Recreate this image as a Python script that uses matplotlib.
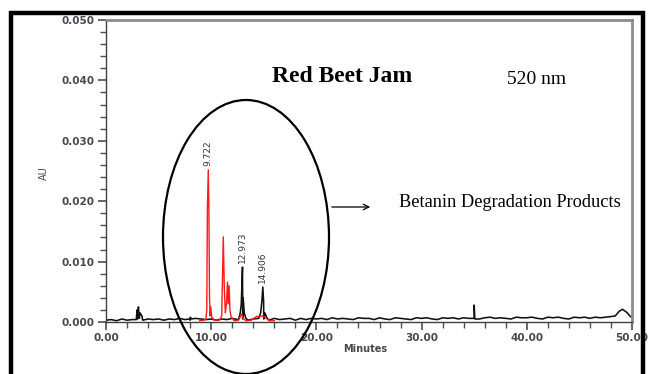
import numpy as np
import matplotlib.pyplot as plt
from matplotlib.patches import Ellipse, FancyArrowPatch
from matplotlib.lines import Line2D
from matplotlib.ticker import MultipleLocator, FormatStrFormatter

# black trace: noisy baseline every 0.5 min (AU x 1e-4), 0 .. 48 min
baseline_time = np.arange(0, 48.5, 0.5)
baseline_au = [3, 4, 2, 5, 3, 4, 5, 3, 5, 4,
               5, 3, 5, 4, 6, 4, 3, 6, 5, 4,
               5, 3, 5, 4, 6, 4, 5, 3, 5, 6,
               5, 3, 6, 4, 5, 6, 3, 6, 4, 6,
               5, 6, 4, 7, 5, 6, 5, 4, 7, 6,
               6, 4, 7, 5, 4, 7, 6, 5, 4, 7,
               6, 7, 5, 4, 7, 6, 7, 5, 7, 6,
               7, 5, 7, 8, 6, 7, 6, 5, 8, 7,
               7, 8, 6, 5, 8, 7, 8, 6, 5, 8,
               7, 8, 6, 8, 7, 8, 9]

# black trace: peaks and spikes (min, AU x 1e-3)
black_peak_time = [2.88, 2.95, 3.02, 3.08, 3.17, 3.24, 3.42, 3.47, 7.9, 8.02, 8.1,
                   12.62, 12.76, 12.86, 12.92, 12.973, 13.04, 13.14, 13.3,
                   14.52, 14.7, 14.82, 14.906, 14.98, 15.1, 15.32,
                   34.96, 35.0, 35.06, 48.4, 48.8, 49.1, 49.5, 49.8, 50.0]
black_peak_au = [0.4, 2.0, 0.6, 2.5, 0.6, 1.5, 1.0, 0.4, 0.5, 0.8, 0.5,
                 0.5, 1.5, 3.0, 6.0, 9.1, 4.0, 1.5, 0.6,
                 0.6, 1.5, 3.5, 5.8, 3.5, 1.5, 0.6,
                 0.6, 2.8, 0.5, 1.0, 1.8, 2.1, 1.6, 1.0, 0.7]

# red trace (min, AU x 1e-3)
red_time = [8.9, 9.3, 9.5, 9.58, 9.64, 9.722, 9.78, 9.84, 9.9, 9.96, 10.05,
            10.3, 10.8, 11.0, 11.08, 11.15, 11.24, 11.34, 11.45, 11.55, 11.62,
            11.7, 11.78, 11.9, 12.2, 12.6, 12.9, 13.05, 13.3, 13.8, 14.3,
            14.8, 15.1, 15.5, 16.0]
red_au = [0.2, 0.3, 0.5, 2.0, 19.0, 25.2, 19.0, 4.0, 1.0, 2.5, 0.8,
          0.3, 0.3, 1.0, 8.0, 14.1, 6.0, 1.5, 3.0, 6.6, 3.0,
          6.0, 2.0, 0.8, 0.2, 0.3, 1.3, 0.6, 0.2, 0.3, 0.9,
          1.0, 0.8, 0.2, 0.2]

peak_labels = ["9.722", "12.973", "14.906"]
peak_label_time = [9.722, 12.973, 14.906]
peak_label_au = [25.2, 9.1, 5.8]

black_t = np.concatenate([baseline_time, black_peak_time])
black_y = np.concatenate([np.array(baseline_au) * 1e-4, np.array(black_peak_au) * 1e-3])
order = np.argsort(black_t, kind="stable")
black_t, black_y = black_t[order], black_y[order]

tick_color = "#4a4650"

fig = plt.figure(figsize=(6.49, 3.74), dpi=100)
ax = fig.add_axes([106 / 649, 1 - 322 / 374, 526 / 649, 302 / 374])

ax.plot(black_t, black_y, color="#111111", lw=1.15, zorder=2)
ax.plot(red_time, np.array(red_au) * 1e-3, color="#ff1a1a", lw=1.0, zorder=3)

for lab, t, y in zip(peak_labels, peak_label_time, peak_label_au):
    ax.annotate(lab, (t, y * 1e-3), xytext=(0, 3), textcoords="offset points",
                rotation=90, ha="center", va="bottom", fontsize=6.5, color="#333333")

ax.set_xlim(0, 50)
ax.set_ylim(0, 0.050)
ax.xaxis.set_major_locator(MultipleLocator(10))
ax.xaxis.set_minor_locator(MultipleLocator(2))
ax.yaxis.set_major_locator(MultipleLocator(0.010))
ax.yaxis.set_minor_locator(MultipleLocator(0.002))
ax.xaxis.set_major_formatter(FormatStrFormatter("%.2f"))
ax.yaxis.set_major_formatter(FormatStrFormatter("%.3f"))
ax.tick_params(which="major", direction="out", length=6, width=1.1, color="#404040",
               labelsize=7.5, labelcolor=tick_color, pad=2)
ax.tick_params(which="minor", direction="out", length=4, width=1.0, color="#505050")
for lab in ax.get_xticklabels() + ax.get_yticklabels():
    lab.set_fontweight("bold")
ax.tick_params(top=False, right=False)

for side in ["left", "bottom"]:
    ax.spines[side].set_color("#404040")
    ax.spines[side].set_linewidth(1.0)
for side in ["top", "right"]:
    ax.spines[side].set_color("#8c8c8c")
    ax.spines[side].set_linewidth(2.0)

fig.text(365 / 649, 1 - 349 / 374, "Minutes", ha="center", va="center",
         fontsize=7, fontweight="bold", color=tick_color)
fig.text(44 / 649, 1 - 173 / 374, "AU", ha="center", va="center",
         rotation=90, fontsize=7, color=tick_color)

# annotations
fig.text(342 / 649, 1 - 77 / 374, "Red Beet Jam", ha="center", va="center",
         fontsize=17, fontweight="bold", family="Liberation Serif")
fig.text(537 / 649, 1 - 80 / 374, "520 nm", ha="center", va="center",
         fontsize=14, family="Liberation Serif")
fig.text(399 / 649, 1 - 202 / 374, "Betanin Degradation Products", ha="left", va="center",
         fontsize=13.2, family="Liberation Serif")

ell = Ellipse((246 / 649, 1 - 237 / 374), 166 / 649, 274 / 374, transform=fig.transFigure,
              fill=False, lw=1.6, ec="black", zorder=10)
fig.add_artist(ell)
fig.add_artist(FancyArrowPatch(
    (329 / 649, 1 - 207 / 374), (373 / 649, 1 - 207 / 374), transform=fig.transFigure,
    arrowstyle="->", mutation_scale=10, lw=0.9, color="black", zorder=10))

# outer frame
frame_x = [11 / 649, 11 / 649, 643 / 649, 643 / 649]
frame_y = [-0.05, 1 - 12.5 / 374, 1 - 12.5 / 374, -0.05]
fig.add_artist(Line2D(frame_x, frame_y, transform=fig.transFigure,
                      color="black", lw=3.2, zorder=20, solid_joinstyle="miter"))

fig.savefig("out.png", dpi=100)
